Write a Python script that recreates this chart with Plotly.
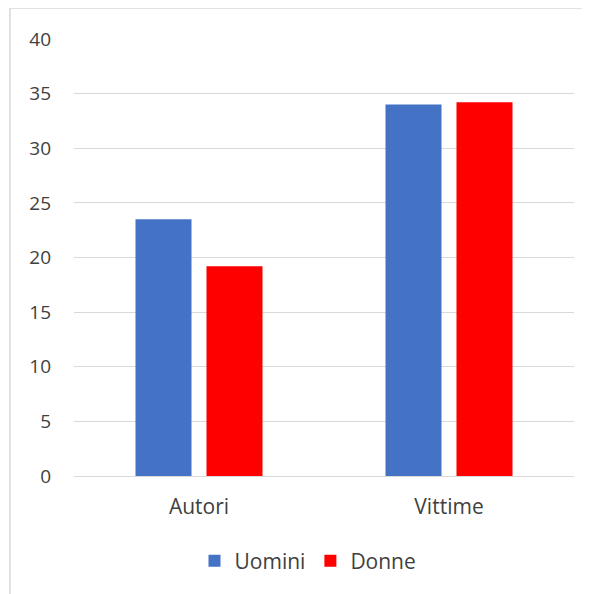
import plotly.graph_objects as go

categories = ["Autori", "Vittime"]
uomini = [23.5, 34.0]
donne = [19.2, 34.2]
y_ticks = [0, 5, 10, 15, 20, 25, 30, 35, 40]

FONT = "Open Sans"
TXT = "#404040"

fig = go.Figure()
fig.add_trace(go.Bar(name="Uomini", x=categories, y=uomini, marker=dict(color="#4472C4", line=dict(width=0))))
fig.add_trace(go.Bar(name="Donne", x=categories, y=donne, marker=dict(color="#FF0000", line=dict(width=0))))

fig.update_layout(
    width=590, height=594,
    margin=dict(l=66, r=24, t=31, b=126, autoexpand=False),
    paper_bgcolor="white", plot_bgcolor="white",
    barmode="group", bargap=0.432, bargroupgap=0.211,
    font=dict(family=FONT, size=19, color=TXT),
    showlegend=True,
    legend=dict(orientation="h", x=0.468, xanchor="center", y=-0.1945, yanchor="middle",
                font=dict(family=FONT, size=21, color=TXT), itemwidth=30, traceorder="normal"),
    xaxis=dict(showgrid=False, showline=True, linecolor="#d9d9d9", linewidth=1,
               ticks="", tickfont=dict(family=FONT, size=21, color=TXT), ticklabelstandoff=12),
    yaxis=dict(range=[0, 40], tickvals=y_ticks, showgrid=True, gridcolor="#d9d9d9", gridwidth=1,
               zeroline=False, showline=False, ticks="",
               tickfont=dict(family=FONT, size=19, color=TXT), ticklabelstandoff=22),
    shapes=[dict(type="rect", xref="paper", yref="paper", x0=-0.128, x1=1.3, y0=-0.4, y1=1.071,
                 line=dict(color="#d9d9d9", width=1.5), fillcolor="rgba(0,0,0,0)", layer="below")],
)

fig.write_html("out.html")
